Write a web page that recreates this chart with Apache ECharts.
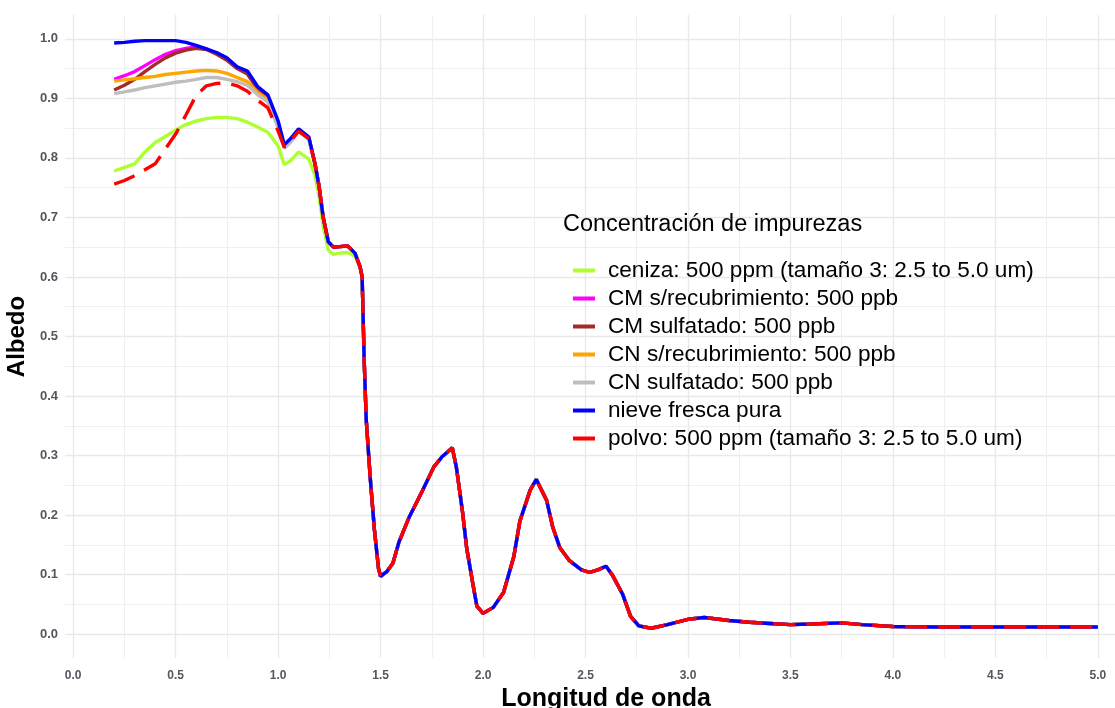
<!DOCTYPE html>
<html>
<head>
<meta charset="utf-8">
<script src="https://cdn.jsdelivr.net/npm/echarts@6/dist/echarts.min.js"></script>
<style>
  html, body { margin: 0; padding: 0; background: #ffffff; }
  #chart { width: 1115px; height: 708px; }
</style>
</head>
<body>
<div id="chart"></div>
<script>
// Wavelength (um) sampling where the impurity curves differ
const wavelengthHead = [0.2, 0.25, 0.3, 0.35, 0.4, 0.45, 0.5, 0.55, 0.6, 0.65, 0.7, 0.75, 0.8, 0.85, 0.9, 0.95, 1.0, 1.03, 1.06, 1.1, 1.15];

// Wavelength (um) sampling where all curves nearly coincide
const wavelengthTail = [1.18, 1.2, 1.22, 1.245, 1.27, 1.3, 1.34, 1.375, 1.4, 1.41, 1.42, 1.43, 1.45, 1.47, 1.49, 1.5, 1.53, 1.56, 1.59, 1.64, 1.7, 1.76, 1.8, 1.85, 1.87, 1.9, 1.92, 1.95, 1.97, 2.0, 2.05, 2.1, 2.15, 2.18, 2.23, 2.26, 2.31, 2.34, 2.375, 2.42, 2.48, 2.52, 2.56, 2.6, 2.63, 2.68, 2.72, 2.76, 2.82, 2.9, 3.0, 3.08, 3.2, 3.3, 3.4, 3.5, 3.6, 3.75, 3.85, 4.0, 4.2, 4.4, 4.6, 4.8, 5.0];

// Shared albedo beyond 1.15 um
const albedoTail = [0.79, 0.752, 0.70, 0.659, 0.65, 0.651, 0.652, 0.64, 0.617, 0.6, 0.46, 0.36, 0.26, 0.175, 0.11, 0.097, 0.105, 0.119, 0.155, 0.197, 0.238, 0.281, 0.298, 0.313, 0.28, 0.205, 0.145, 0.085, 0.047, 0.035, 0.045, 0.07, 0.13, 0.19, 0.242, 0.26, 0.225, 0.18, 0.145, 0.124, 0.108, 0.104, 0.108, 0.114, 0.1, 0.068, 0.03, 0.014, 0.01, 0.016, 0.025, 0.028, 0.023, 0.02, 0.018, 0.016, 0.017, 0.019, 0.016, 0.013, 0.012, 0.012, 0.012, 0.012, 0.012];

// Albedo per scenario over wavelengthHead
const cenizaHead   = [0.778, 0.784, 0.79, 0.81, 0.826, 0.836, 0.847, 0.856, 0.862, 0.866, 0.868, 0.868, 0.866, 0.86, 0.852, 0.843, 0.82, 0.789, 0.795, 0.81, 0.798];
const cenizaMid    = [0.77, 0.735, 0.685, 0.645, 0.638, 0.64, 0.641, 0.635, 0.615];
const cmSinHead    = [0.932, 0.938, 0.945, 0.955, 0.965, 0.974, 0.98, 0.984, 0.987, 0.983, 0.975, 0.966, 0.951, 0.943, 0.917, 0.904, 0.858, 0.82, 0.83, 0.848, 0.834];
const cmSulfHead   = [0.914, 0.922, 0.932, 0.945, 0.957, 0.968, 0.976, 0.981, 0.984, 0.982, 0.974, 0.964, 0.95, 0.941, 0.915, 0.902, 0.856, 0.819, 0.829, 0.847, 0.833];
const cnSinHead    = [0.929, 0.931, 0.933, 0.935, 0.937, 0.94, 0.942, 0.944, 0.946, 0.947, 0.946, 0.942, 0.935, 0.928, 0.91, 0.898, 0.853, 0.818, 0.828, 0.846, 0.832];
const cnSulfHead   = [0.908, 0.911, 0.914, 0.918, 0.921, 0.924, 0.927, 0.929, 0.932, 0.935, 0.935, 0.932, 0.928, 0.922, 0.906, 0.894, 0.851, 0.816, 0.826, 0.845, 0.831];
const nieveHead    = [0.993, 0.994, 0.996, 0.997, 0.997, 0.997, 0.997, 0.994, 0.989, 0.983, 0.977, 0.968, 0.953, 0.946, 0.92, 0.906, 0.862, 0.822, 0.832, 0.849, 0.835];
const polvoHead    = [0.756, 0.762, 0.77, 0.78, 0.79, 0.815, 0.84, 0.872, 0.905, 0.921, 0.925, 0.926, 0.921, 0.912, 0.897, 0.884, 0.845, 0.818, 0.828, 0.845, 0.832];

const seriesNames = [
  'ceniza: 500 ppm (tamaño 3: 2.5 to 5.0 um)',
  'CM s/recubrimiento: 500 ppb',
  'CM sulfatado: 500 ppb',
  'CN s/recubrimiento: 500 ppb',
  'CN sulfatado: 500 ppb',
  'nieve fresca pura',
  'polvo: 500 ppm (tamaño 3: 2.5 to 5.0 um)'
];
const seriesColors = ['#adff2f', '#ff00ff', '#a52a2a', '#ffa500', '#bebebe', '#0000ff', '#ff0000'];

// Axis ticks
const xTicks = [0, 0.5, 1, 1.5, 2, 2.5, 3, 3.5, 4, 4.5, 5];
const xMinorTicks = [0.25, 0.75, 1.25, 1.75, 2.25, 2.75, 3.25, 3.75, 4.25, 4.75];
const yTicks = [0, 0.1, 0.2, 0.3, 0.4, 0.5, 0.6, 0.7, 0.8, 0.9, 1.0];
const yMinorTicks = [0.05, 0.15, 0.25, 0.35, 0.45, 0.55, 0.65, 0.75, 0.85, 0.95];

const wavelength = wavelengthHead.concat(wavelengthTail);
const albedoSets = [
  cenizaHead.concat(cenizaMid, albedoTail.slice(cenizaMid.length)),
  cmSinHead.concat(albedoTail),
  cmSulfHead.concat(albedoTail),
  cnSinHead.concat(albedoTail),
  cnSulfHead.concat(albedoTail),
  nieveHead.concat(albedoTail),
  polvoHead.concat(albedoTail)
];

const FONT = 'Liberation Sans, Arial, sans-serif';
const majorLine = { color: '#e9e9e9', width: 1.4 };
const minorLine = { color: '#efefef', width: 1 };
// Panel extent: data range padded by 5% on each side
const X_RANGE = [-0.04, 5.24];
const Y_RANGE = [-0.04, 1.04];

const series = seriesNames.map((name, i) => ({
  name: name,
  type: 'line',
  xAxisIndex: 0,
  yAxisIndex: 0,
  data: wavelength.map((w, k) => [w, albedoSets[i][k]]),
  symbol: 'none',
  color: seriesColors[i],
  lineStyle: { width: 3.4, color: seriesColors[i], type: i === 6 ? [22, 11] : 'solid', cap: 'butt' },
  z: 2 + i
}));

const chart = echarts.init(document.getElementById('chart'), null, { renderer: 'canvas' });
chart.setOption({
  animation: false,
  backgroundColor: '#ffffff',
  title: {
    text: 'Concentración de impurezas',
    left: 563, top: 213, padding: 0,
    textStyle: { fontFamily: FONT, fontSize: 23.5, fontWeight: 'normal', color: '#000000' }
  },
  legend: {
    orient: 'vertical',
    left: 573, top: 259, padding: 0,
    icon: 'rect',
    itemWidth: 22, itemHeight: 4, itemGap: 5,
    textStyle: { fontFamily: FONT, fontSize: 22.6, color: '#000000', lineHeight: 22, padding: [0, 0, 0, 8] },
    data: seriesNames
  },
  grid: { left: 65, right: -32, top: 15, bottom: 50, containLabel: false, outerBoundsMode: 'none' },
  xAxis: [
    {
      type: 'value', min: X_RANGE[0], max: X_RANGE[1],
      name: 'Longitud de onda', nameLocation: 'middle', nameGap: 27,
      nameTextStyle: { fontFamily: FONT, fontSize: 25, fontWeight: 'bold', color: '#000000' },
      axisLine: { show: false },
      axisTick: { show: false, customValues: xTicks },
      axisLabel: { customValues: xTicks, margin: 12, fontFamily: FONT, fontSize: 12, fontWeight: 'bold', color: '#555560', formatter: v => v.toFixed(1) },
      splitLine: { show: true, lineStyle: majorLine }
    },
    {
      type: 'value', min: X_RANGE[0], max: X_RANGE[1], position: 'bottom',
      axisLine: { show: false },
      axisTick: { show: false, customValues: xMinorTicks },
      axisLabel: { show: false },
      splitLine: { show: true, lineStyle: minorLine }
    }
  ],
  yAxis: [
    {
      type: 'value', min: Y_RANGE[0], max: Y_RANGE[1],
      name: 'Albedo', nameLocation: 'middle', nameGap: 31,
      nameTextStyle: { fontFamily: FONT, fontSize: 24, fontWeight: 'bold', color: '#000000' },
      axisLine: { show: false },
      axisTick: { show: false, customValues: yTicks },
      axisLabel: { customValues: yTicks, margin: 7, fontFamily: FONT, fontSize: 13, fontWeight: 'bold', color: '#555560', formatter: v => v.toFixed(1) },
      splitLine: { show: true, lineStyle: majorLine }
    },
    {
      type: 'value', min: Y_RANGE[0], max: Y_RANGE[1], position: 'left',
      axisLine: { show: false },
      axisTick: { show: false, customValues: yMinorTicks },
      axisLabel: { show: false },
      splitLine: { show: true, lineStyle: minorLine }
    }
  ],
  series: series
});
</script>
</body>
</html>
